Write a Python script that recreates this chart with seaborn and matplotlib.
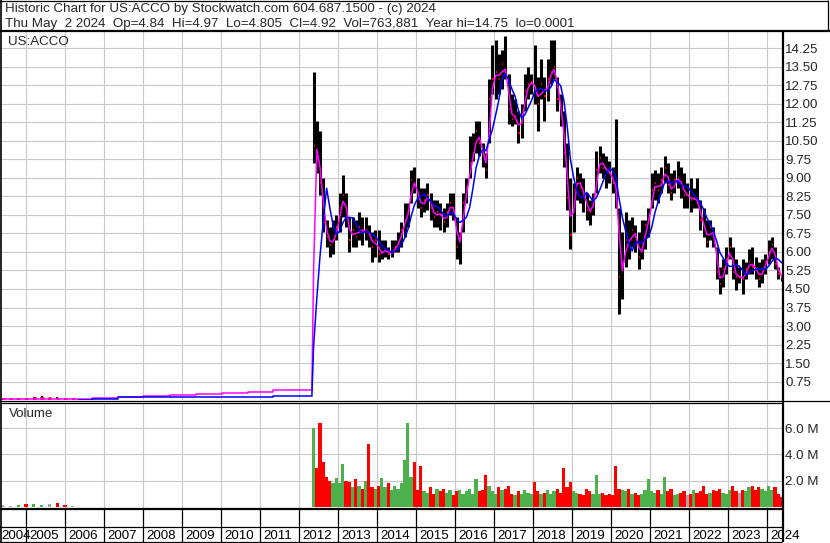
import matplotlib
matplotlib.use("Agg")
import matplotlib.pyplot as plt
import numpy as np
import pandas as pd
import seaborn as sns

# ---- values ----
# early prints 2004-2006 (price $, volume in millions)
pre_dates = [2004.40, 2004.60, 2004.80, 2005.00, 2005.20, 2005.40, 2005.60, 2005.80, 2006.00, 2006.20]
pre_high = [0.06, 0.05, 0.08, 0.06, 0.12, 0.15, 0.10, 0.14, 0.08, 0.05]
pre_low = [0.00, 0.00, 0.01, 0.00, 0.02, 0.03, 0.02, 0.03, 0.01, 0.00]
pre_close = [0.03, 0.03, 0.05, 0.03, 0.08, 0.10, 0.10, 0.06, 0.04, 0.04]
pre_volume_m = [0.12, 0.10, 0.15, 0.25, 0.20, 0.18, 0.22, 0.30, 0.12, 0.10]

# moving averages before the 2012 relisting (step shaped)
fast_pre_dates = [2004.33, 2006.69, 2007.36, 2008.00, 2008.69, 2009.36, 2010.03, 2010.69, 2011.33, 2012.33]
fast_pre = [0.045, 0.10, 0.14, 0.17, 0.22, 0.25, 0.30, 0.34, 0.41, 0.41]
slow_pre_dates = [2006.33, 2006.69, 2007.36, 2011.33, 2012.33]
slow_pre = [0.00, 0.03, 0.11, 0.17, 0.17]

# monthly bars, May 2012 .. May 2024
first_month = "2012-05"
high = [
    13.3, 11.3, 10.9, 9.0, 7.3, 7.0, 7.3, 7.5,
    8.4, 9.1, 8.4, 7.4, 7.4, 7.3, 7.6, 7.4, 7.4, 7.1, 6.8, 6.9,
    6.9, 6.5, 6.5, 6.2, 6.5, 6.5, 6.8, 7.2, 8.0, 8.0, 9.3, 9.45,
    9.0, 8.6, 8.6, 8.8, 8.4, 8.1, 8.1, 8.0, 7.8, 8.0, 8.4, 8.4,
    7.4, 6.8, 8.4, 9.0, 10.7, 10.8, 11.3, 11.3, 10.4, 10.0, 13.0, 14.4,
    14.6, 14.0, 14.2, 14.75, 13.2, 12.4, 12.2, 11.7, 12.0, 13.2, 13.5, 13.2,
    14.4, 13.1, 13.8, 13.1, 13.8, 14.6, 14.6, 13.1, 12.4, 11.7, 10.4, 9.0,
    8.8, 9.45, 9.2, 9.0, 8.4, 8.1, 8.4, 10.1, 10.3, 10.0, 9.9, 9.7,
    9.45, 11.4, 7.8, 6.8, 7.6, 7.3, 7.4, 7.1, 6.8, 7.3, 7.3, 7.8,
    9.2, 9.3, 9.2, 9.45, 9.9, 9.6, 9.2, 9.3, 9.7, 9.45, 9.2, 8.8,
    9.0, 8.6, 9.0, 8.1, 7.8, 7.3, 7.3, 7.0, 6.2, 5.4, 5.7, 6.2,
    6.6, 6.2, 5.7, 5.4, 5.7, 5.6, 6.1, 6.2, 5.8, 5.6, 5.7, 5.9,
    6.5, 6.6, 6.2, 5.4, 4.97,
]
low = [
    9.6, 9.2, 8.3, 6.8, 6.2, 5.8, 5.9, 6.5,
    6.8, 7.4, 7.0, 6.0, 6.2, 6.2, 6.5, 6.3, 6.5, 6.2, 5.6, 5.8,
    5.6, 5.7, 5.8, 5.7, 5.8, 6.0, 6.0, 6.2, 6.6, 7.0, 8.0, 8.4,
    7.8, 7.4, 7.6, 7.7, 7.3, 7.0, 7.0, 6.9, 6.8, 7.0, 7.5, 7.3,
    5.7, 5.5, 6.8, 8.0, 9.0, 9.7, 10.0, 9.9, 9.45, 9.0, 10.4, 12.4,
    12.2, 12.4, 12.6, 13.0, 11.2, 11.1, 11.2, 10.4, 10.6, 11.7, 12.2, 12.4,
    12.0, 10.9, 12.2, 11.3, 12.1, 12.8, 13.0, 11.7, 11.1, 9.45, 7.7, 6.1,
    6.8, 8.1, 8.0, 7.6, 7.3, 7.1, 7.5, 8.4, 9.2, 9.0, 8.6, 8.8,
    8.4, 7.8, 3.5, 4.1, 5.4, 5.7, 6.2, 6.0, 5.3, 5.7, 6.1, 6.6,
    7.8, 8.1, 8.0, 8.4, 8.8, 8.4, 8.1, 8.4, 8.6, 8.2, 7.8, 7.8,
    7.6, 7.8, 7.8, 6.9, 6.6, 6.2, 6.5, 6.2, 4.9, 4.3, 4.6, 5.1,
    5.7, 4.9, 4.45, 4.75, 4.3, 4.9, 5.1, 5.1, 4.9, 4.6, 4.75, 5.1,
    5.5, 5.7, 5.3, 4.9, 4.805,
]
close = [
    10.3, 10.0, 8.8, 7.2, 6.6, 6.3, 6.5, 7.0,
    7.8, 8.3, 7.4, 6.5, 6.9, 6.6, 7.0, 6.8, 6.9, 6.7, 6.2, 6.5,
    5.9, 6.0, 6.1, 5.9, 6.0, 6.2, 6.4, 6.9, 7.3, 7.7, 8.9, 8.7,
    8.2, 7.8, 8.1, 8.3, 7.8, 7.4, 7.6, 7.5, 7.2, 7.6, 8.0, 7.6,
    6.2, 6.6, 8.0, 8.6, 9.6, 10.0, 10.9, 10.4, 9.9, 9.3, 12.2, 13.0,
    13.3, 13.0, 13.6, 13.2, 11.8, 11.4, 11.5, 10.8, 11.6, 12.5, 12.8, 12.9,
    12.6, 12.0, 12.8, 12.3, 13.0, 13.3, 13.5, 12.2, 11.7, 10.0, 8.2, 6.7,
    8.5, 9.0, 8.6, 8.3, 7.7, 7.6, 8.1, 9.3, 9.8, 9.4, 9.3, 9.2,
    8.8, 8.5, 5.0, 5.5, 6.5, 6.3, 6.9, 6.6, 5.8, 6.2, 7.1, 7.3,
    8.5, 8.8, 8.5, 8.9, 9.4, 8.7, 8.4, 8.9, 9.0, 8.7, 8.3, 8.3,
    8.1, 8.2, 8.0, 7.3, 7.0, 6.4, 7.0, 6.6, 5.2, 4.7, 5.3, 5.7,
    6.2, 5.2, 5.0, 5.0, 4.9, 5.3, 5.6, 5.4, 5.3, 4.9, 5.3, 5.6,
    6.0, 6.3, 5.5, 5.1, 4.92,
]
volume_m = [
    6.0, 3.0, 6.4, 3.4, 2.3, 2.0, 1.8, 2.2,
    1.8, 3.3, 2.0, 1.9, 1.5, 2.1, 1.6, 1.4, 2.0, 4.8, 1.5, 1.4,
    1.6, 2.2, 1.5, 1.8, 1.3, 1.6, 1.4, 1.8, 3.6, 6.4, 2.3, 3.4,
    1.3, 3.1, 1.2, 1.1, 1.5, 1.0, 1.4, 1.2, 1.4, 1.1, 1.3, 0.9,
    1.2, 1.3, 1.0, 1.2, 1.4, 1.0, 2.1, 1.2, 1.3, 2.4, 1.6, 1.2,
    1.0, 1.5, 1.3, 1.4, 1.6, 1.0, 0.9, 1.2, 1.0, 1.3, 1.1, 1.0,
    1.9, 1.2, 1.0, 1.1, 1.3, 1.0, 1.2, 1.4, 1.1, 3.0, 1.5, 1.9,
    1.2, 1.1, 1.0, 0.9, 1.4, 1.2, 1.0, 2.4, 1.0, 1.1, 0.9, 1.0,
    0.9, 3.1, 1.4, 1.3, 1.2, 1.4, 1.0, 1.1, 0.9, 1.0, 1.3, 2.1,
    1.2, 1.1, 1.3, 1.0, 2.3, 1.2, 1.4, 0.9, 1.0, 1.1, 1.2, 0.9,
    1.0, 1.3, 1.1, 1.2, 1.6, 1.0, 1.1, 1.3, 1.2, 1.4, 1.1, 1.0,
    1.3, 1.6, 1.2, 1.1, 1.3, 1.2, 1.5, 1.6, 1.3, 1.5, 1.4, 1.2,
    1.6, 1.3, 1.5, 1.0, 0.8,
]

price_ticks = [0.75, 1.50, 2.25, 3.00, 3.75, 4.50, 5.25, 6.00, 6.75, 7.50,
               8.25, 9.00, 9.75, 10.50, 11.25, 12.00, 12.75, 13.50, 14.25]
volume_ticks = [2.0, 4.0, 6.0]
years = list(range(2004, 2025))

header_1 = "Historic Chart for US:ACCO by Stockwatch.com 604.687.1500 - (c) 2024"
header_2 = ("Thu May  2 2024  Op=4.84  Hi=4.97  Lo=4.805  Cl=4.92  "
            "Vol=763,881  Year hi=14.75  lo=0.0001")

# ---- derived series ----
months = pd.period_range(first_month, periods=len(close), freq="M")
mx = np.asarray(months.year + (months.month - 1) / 12 + 1 / 24, dtype=float)

# short (magenta) and long (blue) moving averages of the monthly closes
fast_ma = pd.Series([fast_pre[-1]] + close).rolling(2).mean().iloc[1:].to_numpy()
slow_ma = pd.Series([slow_pre[-1]] * 4 + close).rolling(5).mean().iloc[4:].to_numpy()

GREEN, RED, GRAY = "#4cb04c", "#ff0000", "#a8a8a8"


def vol_colors(closes, prev):
    out = []
    for c in closes:
        out.append(GREEN if c > prev else RED if c < prev else GRAY)
        prev = c
    return out


pre_colors = vol_colors(pre_close, pre_close[0])
post_colors = vol_colors(close, pre_close[-1])

# ---- figure ----
sns.set_style("white")
plt.rcParams["font.family"] = ["Liberation Sans", "DejaVu Sans"]
FS = 9.6
GRID = "#c8c8c8"

W, H = 830, 543
fig = plt.figure(figsize=(W / 100, H / 100), dpi=100)


def box(x0, y0, x1, y1):
    return [x0 / W, 1 - y1 / H, (x1 - x0) / W, (y1 - y0) / H]


XL = (2004 + 1 / 3, 2024.377)
RIGHT = 781.7

# price panel
ax = fig.add_axes(box(0, 31, RIGHT, 400.1))
ax.set_xlim(*XL)
ax.set_ylim(0, 14.95)
ax.set_xticks(years[1:])
ax.set_xticklabels([])
ax.set_yticks(price_ticks)
ax.set_yticklabels([f"{t:.2f}" for t in price_ticks], fontsize=FS)
ax.yaxis.tick_right()
ax.tick_params(length=0, pad=2.4)
ax.grid(True, color=GRID, lw=0.8)
ax.set_axisbelow(True)
for s in ax.spines.values():
    s.set_visible(False)

ax.vlines(pre_dates, pre_low, pre_high, color="black", lw=1.6)
ax.hlines(pre_close, np.array(pre_dates) - 0.03, np.array(pre_dates) + 0.05, colors=RED, lw=2)
ax.vlines(mx, low, high, color="black", lw=2.2)
ax.hlines(close, mx, mx + 1 / 30, colors=RED, lw=1.5)

sns.lineplot(x=fast_pre_dates, y=fast_pre, ax=ax, color="#ff00ff", lw=1.1,
             drawstyle="steps-post", estimator=None, sort=False)
sns.lineplot(x=slow_pre_dates, y=slow_pre, ax=ax, color="#0000ff", lw=1.1,
             drawstyle="steps-post", estimator=None, sort=False)
sns.lineplot(x=[fast_pre_dates[-1]] + list(mx), y=[fast_pre[-1]] + list(fast_ma), ax=ax,
             color="#ff00ff", lw=1.1, estimator=None, sort=False)
sns.lineplot(x=[slow_pre_dates[-1]] + list(mx), y=[slow_pre[-1]] + list(slow_ma), ax=ax,
             color="#0000ff", lw=1.1, estimator=None, sort=False)
ax.set_xlabel("")
ax.set_ylabel("")

# volume panel
av = fig.add_axes(box(0, 402.5, RIGHT, 509))
av.set_xlim(*XL)
av.set_ylim(-0.152, 7.96)
av.set_xticks(years[1:])
av.set_xticklabels([])
av.set_yticks(volume_ticks)
av.set_yticklabels([f"{t:.1f} M" for t in volume_ticks], fontsize=FS)
av.yaxis.tick_right()
av.tick_params(length=0, pad=2.4)
av.grid(True, color=GRID, lw=0.8)
av.set_axisbelow(True)
for s in av.spines.values():
    s.set_visible(False)
av.bar(pre_dates, pre_volume_m, width=1 / 12, color=pre_colors, linewidth=0)
av.bar(mx, volume_m, width=1 / 12, color=post_colors, linewidth=0)

# year strip
ay = fig.add_axes(box(0, 509, RIGHT, 541.5))
ay.set_xlim(*XL)
ay.set_ylim(0, 1)
ay.axis("off")
ay.vlines(years[1:], 0, 1, color="black", lw=0.9)
ay.axhline(15 / 32.5, color="black", lw=0.9)
for yr in years:
    ay.text(max(yr + 0.095, XL[0] + 0.04), 2.5 / 32.5, str(yr), fontsize=FS,
            ha="left", va="baseline", color="black")

# frame lines and header text (pixel coordinates)
ov = fig.add_axes([0, 0, 1, 1], facecolor="none")
ov.set_xlim(0, W)
ov.set_ylim(H, 0)
ov.axis("off")
k = dict(color="black", solid_capstyle="butt")
ov.plot([0, 828], [0.5, 0.5], lw=0.9, **k)
ov.plot([827.5, 827.5], [0, 31], lw=0.9, **k)
ov.plot([0, W], [30.5, 30.5], lw=1.6, **k)
ov.plot([0.7, 0.7], [0, H], lw=1.2, **k)
ov.plot([782.5, 782.5], [30, 542], lw=1.6, **k)
ov.plot([0, W], [400.5, 400.5], lw=0.9, **k)
ov.plot([0, 782], [402.8, 402.8], lw=0.9, **k)
ov.plot([0, 782], [509, 509], lw=1.6, **k)
ov.plot([0, 782], [541.5, 541.5], lw=0.9, **k)

ov.text(5, 12, header_1, fontsize=FS, ha="left", va="baseline")
ov.text(5, 26.5, header_2, fontsize=FS, ha="left", va="baseline")
ov.text(8, 45, "US:ACCO", fontsize=FS, ha="left", va="baseline")
ov.text(9, 417, "Volume", fontsize=FS, ha="left", va="baseline")

fig.savefig("out.png", dpi=100)
